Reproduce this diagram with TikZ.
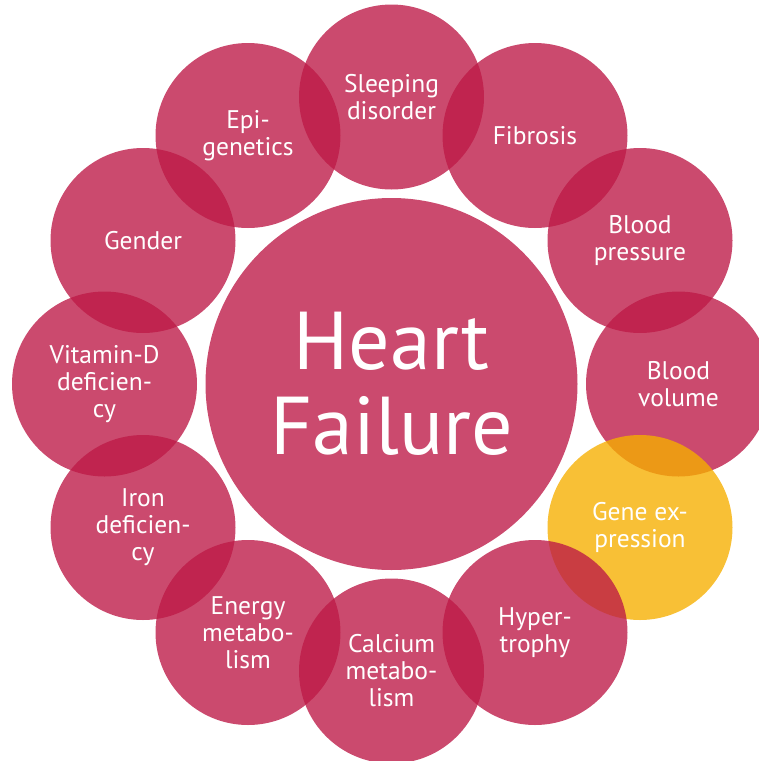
\documentclass[tikz,border=0pt]{standalone}
\usepackage{fontspec}
\setmainfont{PT Sans}
\definecolor{hfpink}{RGB}{189,26,71}
\definecolor{hfyellow}{RGB}{246,175,0}
\tikzset{
  factor/.style={circle, minimum size=185pt, inner sep=0pt, fill=hfpink, fill opacity=0.79,
    text opacity=1, text=white, align=center,
    font=\fontsize{25.5}{27}\selectfont},
  highlight/.style={factor, fill=hfyellow},
  core/.style={circle, minimum size=372pt, inner sep=0pt, fill=hfpink, fill opacity=0.79,
    text opacity=1, text=white, align=center,
    font=\fontsize{82}{85}\selectfont}
}
\begin{document}
\begin{tikzpicture}[x=1pt,y=-1pt]
\useasboundingbox (0,0) rectangle (759,761);
\clip (0,0) rectangle (759,761);
\node[core] (hf) at (391.5,384) {Heart\\Failure};
\node[factor] (sleep) at (391.5,97) {Sleeping\\disorder};
\node[factor] (fib) at (535,135.5) {Fibrosis};
\node[factor] (bp) at (640,240.5) {Blood\\pressure};
\node[factor] (bv) at (678.5,384) {Blood\\volume};
\node[highlight] (gene) at (640,527.5) {Gene ex-\\pression};
\node[factor] (hyp) at (535,632.5) {Hyper-\\trophy};
\node[factor] (ca) at (391.5,671) {Calcium\\metabo-\\lism};
\node[factor] (en) at (248,632.5) {Energy\\metabo-\\lism};
\node[factor] (iron) at (143,527.5) {Iron\\deficien-\\cy};
\node[factor] (vitd) at (104.5,384) {Vitamin-D\\deficien-\\cy};
\node[factor] (gen) at (143,240.5) {Gender};
\node[factor] (epi) at (248,135.5) {Epi-\\genetics};
\end{tikzpicture}
\end{document}
